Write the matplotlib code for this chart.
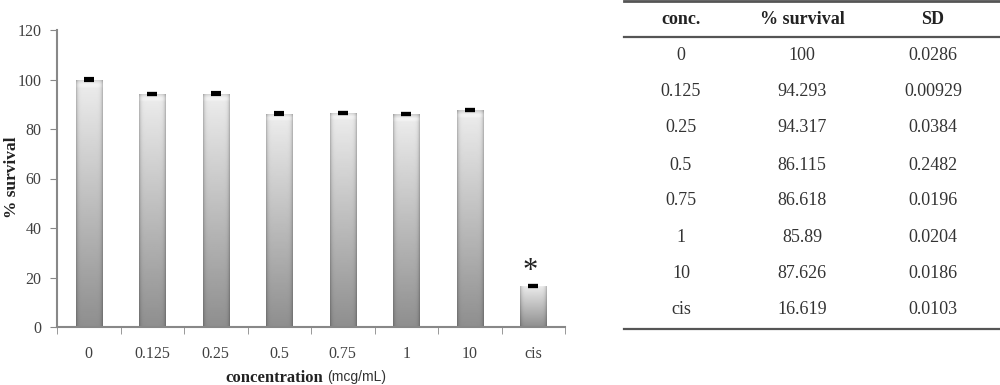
import numpy as np
import matplotlib.pyplot as plt
from matplotlib.lines import Line2D

# data
conc = ['0', '0.125', '0.25', '0.5', '0.75', '1', '10', 'cis']
survival = [100, 94.293, 94.317, 86.115, 86.618, 85.89, 87.626, 16.619]
sd = [0.0286, 0.00929, 0.0384, 0.2482, 0.0196, 0.0204, 0.0186, 0.0103]
yticks = [0, 20, 40, 60, 80, 100, 120]

W, H = 1000, 385
fig = plt.figure(figsize=(W / 100, H / 100), dpi=100)
plt.rcParams['font.family'] = ['Liberation Serif', 'DejaVu Serif']

def fx(px):
    return px / W

def fy(py):
    return 1 - py / H

ax = fig.add_axes([fx(57), fy(327), fx(565) - fx(57), fy(30) - fy(327)])

x = np.arange(len(conc))
bars = ax.bar(x, survival, width=0.41, color='none', edgecolor='none')

# grey gradient for the bars (light top, darker bottom, darker edges)
n_rows, n_cols = 120, 30
vert = np.linspace(0.93, 0.56, n_rows)
vert[:4] = [0.82, 0.90, 0.95, 0.95]
horiz = 1 - 0.22 * np.abs(np.linspace(-1, 1, n_cols)) ** 8
grad = vert[:, None] * horiz[None, :]
for b in bars:
    x0, w, h = b.get_x(), b.get_width(), b.get_height()
    im = ax.imshow(grad, cmap='gray', vmin=0, vmax=1, aspect='auto',
                   extent=[x0, x0 + w, 0, h], interpolation='bilinear', zorder=2)
    im.set_clip_path(b)

ax.errorbar(x, survival, yerr=sd, fmt='none', ecolor='black',
            elinewidth=2, capsize=3.5, capthick=3, zorder=3)

ax.text(x[-1] - 0.05, survival[-1] + 6, '*', ha='center', va='center',
        fontsize=22, color='#222222')

ax.set_xlim(-0.5, len(conc) - 0.5)
ax.set_ylim(0, 120)
ax.set_yticks(yticks)
ax.set_xticks(x)
ax.set_xticklabels(conc)
ax.set_xticks(np.arange(-0.5, len(conc), 1), minor=True)
ax.tick_params(axis='x', which='major', length=0, pad=14, labelsize=11.5, labelcolor='#404040')
ax.tick_params(axis='x', which='minor', length=5, color='#888888', direction='out')
ax.tick_params(axis='y', length=5, color='#888888', labelsize=11.5, labelcolor='#404040', pad=6)
for s in ['top', 'right']:
    ax.spines[s].set_visible(False)
for s in ['left', 'bottom']:
    ax.spines[s].set_color('#888888')
    ax.spines[s].set_linewidth(1.5)

fig.text(fx(12), fy(177), '% survival', rotation=90, ha='center', va='center',
         fontsize=12.5, fontweight='bold', color='#222222')
fig.text(fx(323), fy(378), 'concentration', ha='right', va='center',
         fontsize=12, fontweight='bold', color='#222222')
fig.text(fx(327), fy(377), '(mcg/mL)', ha='left', va='center',
         fontsize=10, family='Liberation Sans', color='#333333')

# table on the right
cols_x = [681, 802, 933]
headers = ['conc.', '% survival', 'SD']
for cx, hd in zip(cols_x, headers):
    fig.text(fx(cx), fy(19), hd, ha='center', va='center', fontsize=13,
             fontweight='bold', color='#222222')
row_y = [56, 92, 128, 165, 201, 237, 273, 310]
for ry, c, s, e in zip(row_y, conc, survival, sd):
    for cx, t in zip(cols_x, [c, str(s), str(e)]):
        fig.text(fx(cx), fy(ry), t, ha='center', va='center', fontsize=13, color='#333333')
for ly, lw in [(1, 2.0), (37, 1.6), (329, 1.6)]:
    fig.add_artist(Line2D([fx(624), fx(1000)], [fy(ly), fy(ly)], color='#555555', lw=lw))

fig.savefig('out.png', dpi=100)
